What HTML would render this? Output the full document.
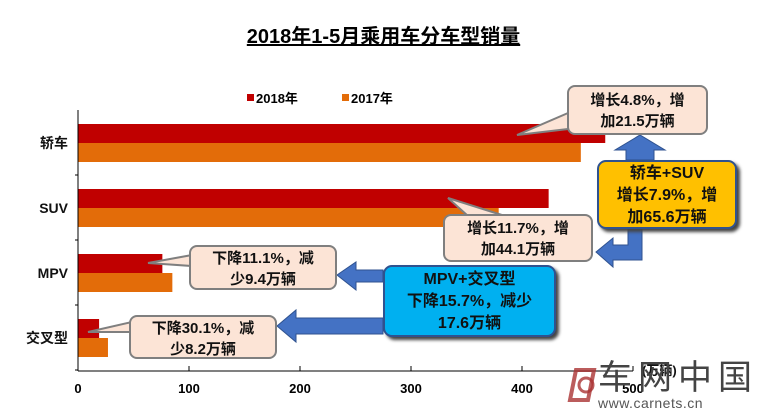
<!DOCTYPE html>
<html><head><meta charset="utf-8"><style>
body{margin:0;background:#fff;font-family:"Liberation Sans","Noto Sans CJK SC",sans-serif;}
#c{position:relative;width:767px;height:416px;overflow:hidden;}
.t{position:absolute;font-weight:bold;white-space:nowrap;}
.co{position:absolute;box-sizing:border-box;background:#FCE4D6;border:2px solid #7f7f7f;border-radius:8px;font-weight:bold;font-size:15px;line-height:21px;text-align:center;color:#111;}
.bx{position:absolute;box-sizing:border-box;border:2px solid #2F528F;border-radius:9px;font-weight:bold;font-size:16px;line-height:22px;text-align:center;color:#111;box-shadow:3px 3px 3px #444;}
</style></head><body>
<div id="c">
<div class="t" style="left:0;width:767px;top:20px;text-align:center;font-size:20px;"><span style="text-decoration:underline">2018年1-5月乘用车分车型销量</span></div>
<svg id="s" width="767" height="416" style="position:absolute;left:0;top:0"></svg>
<div class="co" style="left:567px;top:85px;width:141px;height:50px;padding-top:3px">增长4.8%，增<br>加21.5万辆</div>
<div class="co" style="left:443px;top:214px;width:150px;height:48px;padding-top:2px">增长11.7%，增<br>加44.1万辆</div>
<div class="co" style="left:189px;top:245px;width:148px;height:45px;padding-top:1px">下降11.1%，减<br>少9.4万辆</div>
<div class="co" style="left:129px;top:315px;width:148px;height:44px;padding-top:1px">下降30.1%，减<br>少8.2万辆</div>
<div class="bx" style="left:597px;top:160px;width:140px;height:69px;background:#FFC000;padding-top:1px">轿车+SUV<br>增长7.9%，增<br>加65.6万辆</div>
<div class="bx" style="left:383px;top:265px;width:173px;height:72px;background:#00B0F0;padding-top:2px">MPV+交叉型<br>下降15.7%，减少<br>17.6万辆</div>
<div class="t" style="left:598px;top:358px;font-size:34px;line-height:40px;letter-spacing:6px;color:#444;font-weight:normal">车网中国</div>
<div class="t" style="left:598px;top:395px;font-size:14px;line-height:16px;letter-spacing:0.5px;color:#555;font-weight:normal">www.carnets.cn</div>
</div>
<script>
const categories=["轿车","SUV","MPV","交叉型"];
const s2018=[475,424,76,19];
const s2017=[453,379,85,27];
const ticks=[0,100,200,300,400,500];
const NS="http://www.w3.org/2000/svg",svg=document.getElementById('s');
const x0=78,pxu=1.11,top0=110,band=65;
const X=v=>x0+v*pxu;
function el(t,a){const e=document.createElementNS(NS,t);for(const k in a)e.setAttribute(k,a[k]);svg.appendChild(e);return e;}
categories.forEach((c,i)=>{
 const y=top0+band*i+14;
 let r=el('rect',{x:x0,y:y,width:X(s2018[i])-x0,height:19,fill:'#C00000'});
 
 
 r=el('rect',{x:x0,y:y+19,width:X(s2017[i])-x0,height:19,fill:'#E36C09'});
 
 
 const t=el('text',{x:68,y:y+24,'text-anchor':'end','font-size':14,'font-weight':'bold',fill:'#111'});
 t.textContent=c;
 
 
 el('line',{x1:x0-3,x2:x0,y1:top0+band*(i+1),y2:top0+band*(i+1),stroke:'#000'});
});
el('line',{x1:x0,x2:x0,y1:top0,y2:371,stroke:'#000'});
el('line',{x1:x0,x2:X(500),y1:371,y2:371,stroke:'#000'});
ticks.forEach(v=>{el('line',{x1:X(v),x2:X(v),y1:371,y2:366,stroke:'#000'});
 const t=el('text',{x:X(v),y:393,'text-anchor':'middle','font-size':13,'font-weight':'bold'});t.textContent=v;
 
 });
const u=el('text',{x:642,y:375,'font-size':13,'font-weight':'bold',fill:'#111'});u.textContent='(万辆)';


el('rect',{x:247,y:94,width:7,height:7,fill:'#C00000'});
let lg=el('text',{x:256,y:103,'font-size':13,'font-weight':'bold'});lg.textContent='2018年';


el('rect',{x:342,y:94,width:7,height:7,fill:'#E36C09'});
lg=el('text',{x:351,y:103,'font-size':13,'font-weight':'bold'});lg.textContent='2017年';


const pf='#FCE4D6',ps='#7f7f7f';
el('polygon',{points:'575,110 517,135 585,127',fill:pf,stroke:ps,'stroke-width':2});
el('polygon',{points:'468,216 448,198 505,216',fill:pf,stroke:ps,'stroke-width':2});
el('polygon',{points:'192,255 148,263 192,266',fill:pf,stroke:ps,'stroke-width':2});
el('polygon',{points:'132,322 88,332 132,332',fill:pf,stroke:ps,'stroke-width':2});
const bf='#4472C4',bs='#2F528F';
el('polygon',{points:'626,160 626,150 615,150 640,135 665,150 654,150 654,160',fill:bf,stroke:bs});
el('polygon',{points:'628,229 642,229 642,260 613,260 613,267 596,252 613,238 613,245 628,245',fill:bf,stroke:bs});
el('polygon',{points:'383,270 356,270 356,262 337,275 356,290 356,282 383,282',fill:bf,stroke:bs});
el('polygon',{points:'383,318 296,318 296,310 277,326 296,342 296,334 383,334',fill:bf,stroke:bs});
el('path',{d:'M576 370 h18 l-6 30 h-18 z',fill:'none',stroke:'#a33',"stroke-width":4,opacity:0.8});
el('circle',{cx:586,cy:385,r:7,fill:'none',stroke:'#a33','stroke-width':3,opacity:0.8});
</script>
</body></html>
